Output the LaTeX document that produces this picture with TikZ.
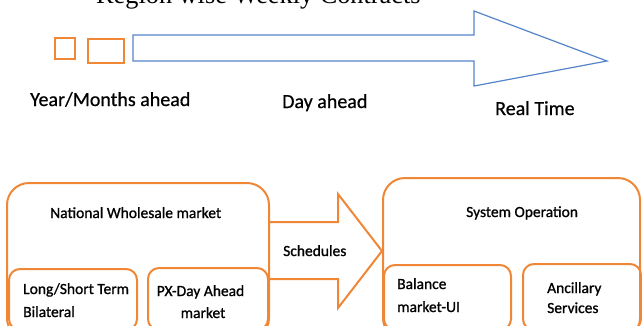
\documentclass[tikz,border=0pt]{standalone}
\usepackage{fontspec}
\setmainfont{Carlito}
\newfontfamily\timesf{Liberation Serif}
\newfontfamily\calA{Carlito}[FakeBold=0.6]
\newfontfamily\calB{Carlito}[FakeBold=1.0]
\definecolor{orng}{RGB}{240,135,55}
\definecolor{blu}{RGB}{85,132,200}
\begin{document}
\begin{tikzpicture}[x=1pt,y=-1pt,
  obox/.style={draw=orng, line width=2pt, inner sep=0pt},
  bigbox/.style={obox, rounded corners=22pt},
  smallbox/.style={obox, rounded corners=11pt},
  toplbl/.style={anchor=base west, inner sep=0pt, font=\calA\fontsize{20}{24}\selectfont},
  botlbl/.style={anchor=base west, inner sep=0pt, font=\calB\fontsize{15.5}{19}\selectfont}]
\useasboundingbox (0,0) rectangle (642,325);
\clip (0,0) rectangle (642,325);
% title (cut at top, as in the reference)
\node[anchor=base west, inner sep=0pt, font=\timesf\fontsize{26.3}{30}\selectfont] (title) at (96,3.5) {Region wise Weekly Contracts};
% small boxes
\node[obox, minimum width=20pt, minimum height=21pt] (b1) at (64.5,48) {};
\node[obox, minimum width=36pt, minimum height=24pt] (b2) at (105.5,50.5) {};
% timeline arrow
\draw[blu, line width=1.2pt, line join=miter] (133,35) -- (474,35) -- (474,11) -- (607,61) -- (474,86) -- (474,61) -- (133,61) -- cycle;
% timeline labels
\node[toplbl] (ym) at (30,106) {Year/Months ahead};
\node[toplbl] (da) at (282,108) {Day ahead};
\node[toplbl] (rt) at (495,115) {Real Time};
% big boxes
\node[bigbox, minimum width=262pt, minimum height=157pt] (nwm) at (138,261.5) {};
\node[bigbox, minimum width=257pt, minimum height=162pt] (sys) at (511.5,259) {};
% inner boxes
\node[smallbox, minimum width=128pt, minimum height=61pt] (lst) at (73,299.5) {};
\node[smallbox, minimum width=120pt, minimum height=62pt] (px) at (208,299) {};
\node[smallbox, minimum width=127pt, minimum height=65pt] (bal) at (447.5,297.5) {};
\node[smallbox, minimum width=118pt, minimum height=66pt] (anc) at (582,297) {};
% schedules arrow
\draw[orng, line width=2pt, line join=miter] (nwm.east |- 0,222) -- (338,222) -- (338,194) -- (sys.west |- 0,251) -- (338,308) -- (338,279) -- (nwm.east |- 0,279);
% labels
\node[botlbl] (nwmt) at (50,218) {National Wholesale market};
\node[botlbl] (syst) at (466,217) {System Operation};
\node[botlbl] (sch) at (283,256) {Schedules};
\node[botlbl] (lst1) at (23,294) {Long/Short Term};
\node[botlbl] (lst2) at (23,317) {Bilateral};
\node[botlbl, anchor=base] (px1) at (200.5,296) {PX-Day Ahead};
\node[botlbl, anchor=base] (px2) at (203,318) {market};
\node[botlbl] (bal1) at (397,289) {Balance};
\node[botlbl] (bal2) at (397,312) {market-UI};
\node[botlbl] (anc1) at (547,293) {Ancillary};
\node[botlbl] (anc2) at (547,313) {Services};
\end{tikzpicture}
\end{document}
